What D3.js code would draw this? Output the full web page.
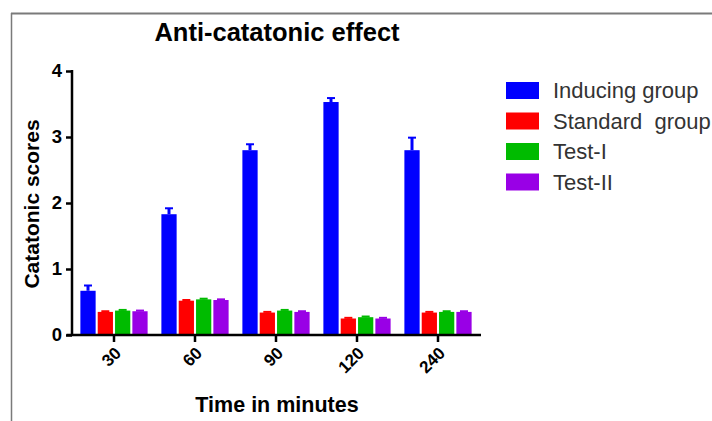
<!DOCTYPE html>
<html>
<head>
<meta charset="utf-8">
<script src="https://cdn.jsdelivr.net/npm/d3@7"></script>
<style>
  html, body { margin: 0; padding: 0; background: #fff; }
  svg { display: block; font-family: Arial, "Liberation Sans", sans-serif; }
</style>
</head>
<body>
<svg id="chart" width="712" height="421"></svg>
<script>
const categories = ["30", "60", "90", "120", "240"];
const seriesNames = ["Inducing group", "Standard  group", "Test-I", "Test-II"];
const inducing = [0.67, 1.83, 2.80, 3.53, 2.80];
const standard = [0.35, 0.52, 0.34, 0.25, 0.34];
const testI = [0.37, 0.54, 0.37, 0.27, 0.35];
const testII = [0.36, 0.53, 0.35, 0.25, 0.35];
const inducingErr = [0.08, 0.09, 0.09, 0.06, 0.19];
const standardErr = [0.01, 0.01, 0.01, 0.01, 0.01];
const testIErr = [0.01, 0.01, 0.01, 0.01, 0.01];
const testIIErr = [0.01, 0.01, 0.01, 0.01, 0.01];
const yTicks = [0, 1, 2, 3, 4];
const colors = ["#0000ff", "#ff0000", "#00bb00", "#9900e6"];

const values = [inducing, standard, testI, testII];
const errors = [inducingErr, standardErr, testIErr, testIIErr];

const svg = d3.select("#chart");

// frame
svg.append("line").attr("x1", 11).attr("x2", 712).attr("y1", 13.5).attr("y2", 13.5)
  .attr("stroke", "#7a7a7a").attr("stroke-width", 2);
svg.append("line").attr("x1", 11.5).attr("x2", 11.5).attr("y1", 13).attr("y2", 421)
  .attr("stroke", "#7a7a7a").attr("stroke-width", 1.5);

const y = d3.scaleLinear().domain([0, 4]).range([335, 71]);
const x0 = d3.scaleBand().domain(categories).range([73.5, 478.5])
  .paddingInner(0.17).paddingOuter(0.085);
const x1 = d3.scaleBand().domain(d3.range(seriesNames.length))
  .range([0, x0.bandwidth()]).paddingInner(0.12);

// bars
const groups = svg.append("g").selectAll("g").data(categories).join("g")
  .attr("transform", d => `translate(${x0(d)},0)`);

groups.each(function(cat, ci) {
  const g = d3.select(this);
  seriesNames.forEach((s, si) => {
    const v = values[si][ci];
    const e = errors[si][ci];
    const bx = x1(si);
    const bw = x1.bandwidth();
    const cx = bx + bw / 2;
    g.append("rect")
      .attr("x", bx).attr("width", bw)
      .attr("y", y(v)).attr("height", y(0) - y(v))
      .attr("fill", colors[si]);
    g.append("line")
      .attr("x1", cx).attr("x2", cx)
      .attr("y1", y(v)).attr("y2", y(v + e))
      .attr("stroke", colors[si]).attr("stroke-width", 3);
    g.append("line")
      .attr("x1", cx - 4).attr("x2", cx + 4)
      .attr("y1", y(v + e)).attr("y2", y(v + e))
      .attr("stroke", colors[si]).attr("stroke-width", 2);
  });
});

// y axis
const yAxis = svg.append("g").attr("transform", "translate(72,0)")
  .call(d3.axisLeft(y).tickValues(yTicks).tickFormat(d3.format("d")).tickSize(6).tickPadding(4));
yAxis.select(".domain").attr("d", `M0,${y(4) - 1}V${y(0) + 1}`).attr("stroke", "#000").attr("stroke-width", 2.5);
yAxis.selectAll(".tick line").attr("stroke", "#000").attr("stroke-width", 2.5);
yAxis.selectAll(".tick text").attr("font-size", 18.5).attr("font-weight", "bold")
  .attr("fill", "#000").attr("font-family", "Arial, 'Liberation Sans', sans-serif");

// x axis
const xAxis = svg.append("g").attr("transform", `translate(0,${y(0)})`)
  .call(d3.axisBottom(x0).tickSize(7).tickSizeOuter(0));
xAxis.select(".domain").attr("d", `M${x0.range()[0] - 7},0H${x0.range()[1] + 2.5}`)
  .attr("stroke", "#000").attr("stroke-width", 2.5);
xAxis.selectAll(".tick line").attr("stroke", "#000").attr("stroke-width", 2.5);
xAxis.selectAll(".tick text")
  .attr("font-size", 17).attr("font-weight", "bold").attr("fill", "#000")
  .attr("font-family", "Arial, 'Liberation Sans', sans-serif")
  .attr("text-anchor", "end")
  .attr("x", 0).attr("y", 0).attr("dy", "0.35em")
  .attr("transform", "translate(4,15) rotate(-45)");

// title
svg.append("text").attr("x", 277).attr("y", 41).attr("text-anchor", "middle")
  .attr("font-size", 25.5).attr("font-weight", "bold").attr("fill", "#000")
  .text("Anti-catatonic effect");

// y label
svg.append("text").attr("transform", "translate(39,204) rotate(-90)")
  .attr("text-anchor", "middle").attr("font-size", 21).attr("font-weight", "bold").attr("fill", "#000")
  .text("Catatonic scores");

// x label
svg.append("text").attr("x", 277).attr("y", 412).attr("text-anchor", "middle")
  .attr("font-size", 21.5).attr("font-weight", "bold").attr("fill", "#000")
  .text("Time in minutes");

// legend
const legend = svg.append("g").selectAll("g").data(seriesNames).join("g")
  .attr("transform", (d, i) => `translate(506,${82 + i * 30.5})`);
legend.append("rect").attr("width", 33).attr("height", 17)
  .attr("fill", (d, i) => colors[i]);
legend.append("text").attr("x", 47).attr("y", 8.5).attr("dy", "0.36em")
  .attr("font-size", 22).attr("fill", "#333").attr("xml:space", "preserve")
  .style("white-space", "pre")
  .text(d => d);
</script>
</body>
</html>
